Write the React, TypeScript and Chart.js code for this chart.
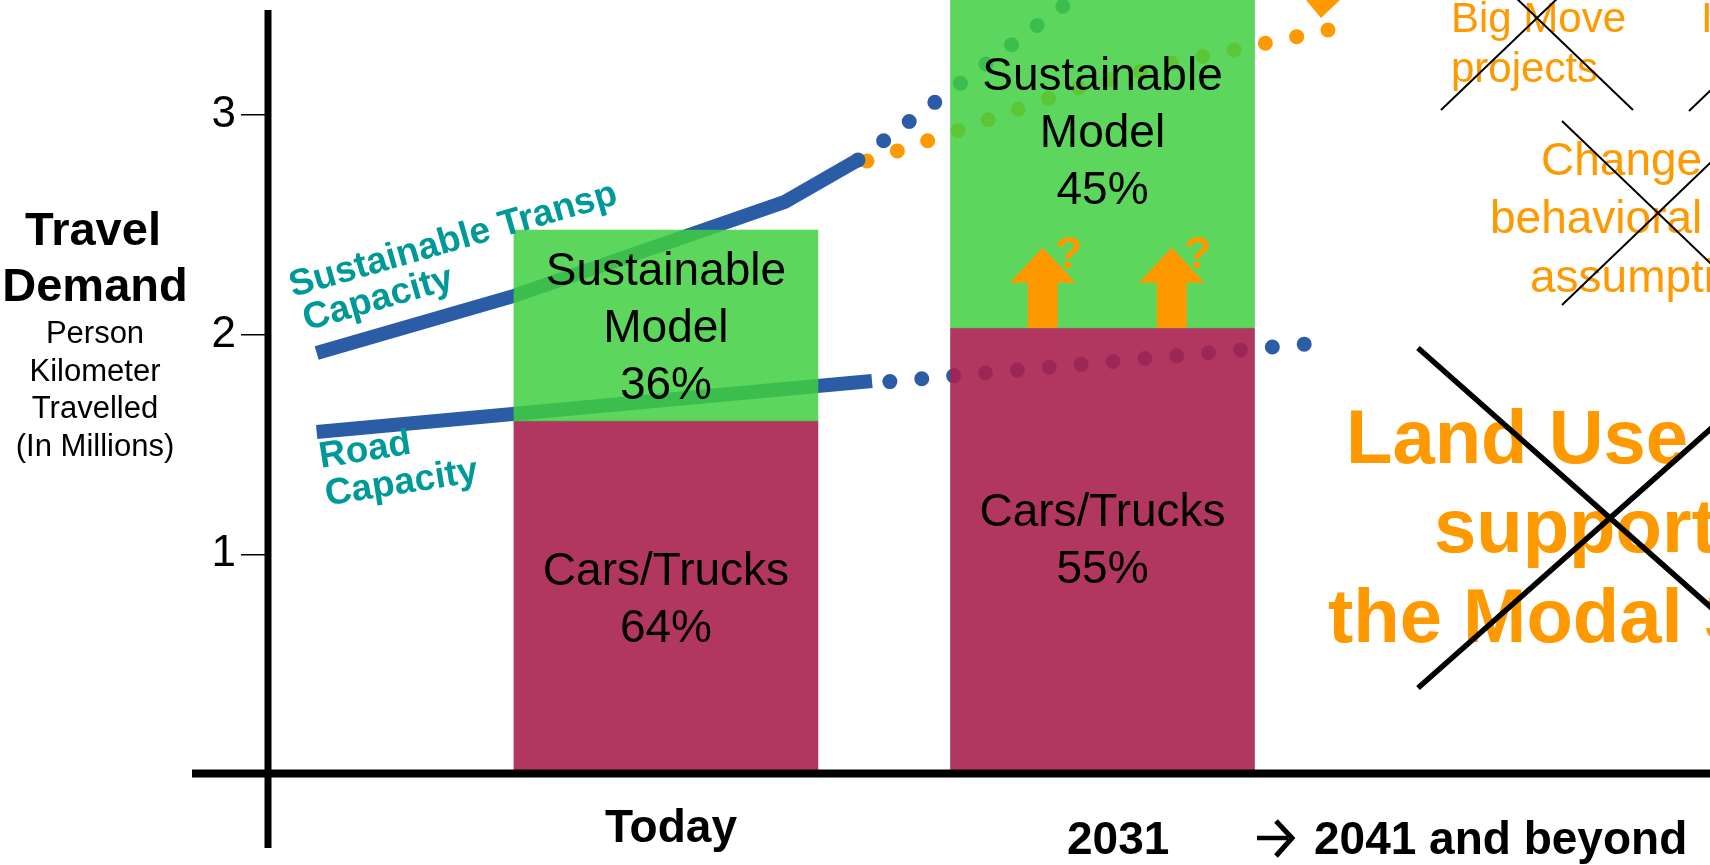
import React, { useEffect, useRef } from 'react';
import { Chart, registerables } from 'chart.js';

Chart.register(...registerables);

const FONT = '"Liberation Sans", Arial, Helvetica, sans-serif';

// ---- Data ----
const categories = ['Today', '2031', '2041 and beyond'];
const barYears = [2011, 2031];
const carsTrucksTop = [1.607, 2.03];
const sustainableTop = [2.476, 3.69];
const carsShare = ['64%', '55%'];
const sustainableShare = ['36%', '45%'];
const yTicks = [1, 2, 3];

// Sustainable transport capacity (existing, solid) and its projection (dotted)
const sustCapYears = [1995.0, 2004.04, 2016.45, 2019.8];
const sustCapValues = [1.916, 2.176, 2.604, 2.795];
const sustCapProjYears = [2019.8, 2030.6];
const sustCapProjValues = [2.795, 3.6];

// Road capacity (existing, solid) and its projection (dotted)
const roadCapYears = [1995.0, 2020.44];
const roadCapValues = [1.557, 1.789];
const roadCapProjYears = [2021.26, 2040.4];
const roadCapProjValues = [1.786, 1.958];

// Projected travel demand (orange dotted)
const demandProjYears = [2020.21, 2024.33, 2029.87, 2034.18, 2041.6];
const demandProjValues = [2.79, 2.927, 3.122, 3.236, 3.392];

const zip = (xs: number[], ys: number[]) => xs.map((x, i) => ({ x, y: ys[i] }));

const BLUE = '#2B5CA6';
const ORANGE = '#FF9900';
const TEAL = '#009999';
const GREEN = 'rgba(63,207,63,0.85)';
const MAROON = 'rgba(168,33,79,0.9)';

const overlayPlugin = {
  id: 'overlay',
  afterDatasetsDraw(chart: any) {
    const ctx = chart.ctx;
    const xs = chart.scales.x;
    const ys = chart.scales.y;
    const X = (v: number) => xs.getPixelForValue(v);
    const Y = (v: number) => ys.getPixelForValue(v);
    const left = chart.chartArea.left;
    ctx.save();

    // axes (thick black cross-style axes)
    ctx.fillStyle = '#000';
    ctx.fillRect(left - 3.5, 10, 7, 838);
    ctx.fillRect(192, Y(0) - 4.5, chart.width - 192, 8);

    // bar segment labels
    ctx.fillStyle = '#000';
    ctx.textAlign = 'center';
    ctx.textBaseline = 'alphabetic';
    ctx.font = `46px ${FONT}`;
    const blocks = [
      { x: barYears[0], v: 2.0414, lines: ['Sustainable', 'Model', sustainableShare[0]] },
      { x: barYears[0], v: 0.8056, lines: ['Cars/Trucks', carsShare[0]] },
      { x: barYears[1], v: 2.929, lines: ['Sustainable', 'Model', sustainableShare[1]] },
      { x: barYears[1], v: 1.074, lines: ['Cars/Trucks', carsShare[1]] },
    ];
    blocks.forEach((b) => {
      const cy = Y(b.v);
      const n = b.lines.length;
      b.lines.forEach((t, k) => {
        ctx.fillText(t, X(b.x), cy + (k - (n - 1) / 2) * 57 + 16.5);
      });
    });

    // orange up arrows with question marks
    ctx.fillStyle = ORANGE;
    [2028.26, 2034.17].forEach((yr) => {
      const bx = X(yr);
      const yb = Y(carsTrucksTop[1]);
      const yh = Y(2.236);
      const ya = Y(2.397);
      ctx.beginPath();
      ctx.moveTo(bx - 15, yb);
      ctx.lineTo(bx - 15, yh);
      ctx.lineTo(bx - 33, yh);
      ctx.lineTo(bx, ya);
      ctx.lineTo(bx + 33, yh);
      ctx.lineTo(bx + 15, yh);
      ctx.lineTo(bx + 15, yb);
      ctx.closePath();
      ctx.fill();
      ctx.font = `bold 44px ${FONT}`;
      ctx.textAlign = 'center';
      ctx.fillText('?', bx + 26, Y(2.303));
    });

    // orange arrowhead at top
    ctx.beginPath();
    ctx.moveTo(1306, 0);
    ctx.lineTo(1340, 0);
    ctx.lineTo(1321, 18);
    ctx.closePath();
    ctx.fill();

    // line labels (teal, rotated)
    ctx.fillStyle = TEAL;
    ctx.font = `bold 37px ${FONT}`;
    ctx.textAlign = 'left';
    ctx.save();
    ctx.translate(293, 297);
    ctx.rotate((-16 * Math.PI) / 180);
    ctx.fillText('Sustainable Transp', 0, 0);
    ctx.fillText('Capacity', 4, 36);
    ctx.restore();
    ctx.save();
    ctx.translate(321, 468);
    ctx.rotate((-9 * Math.PI) / 180);
    ctx.fillText('Road', 0, 0);
    ctx.fillText('Capacity', 0, 38);
    ctx.restore();

    // left axis title
    ctx.fillStyle = '#000';
    ctx.textAlign = 'center';
    ctx.font = `bold 47px ${FONT}`;
    ctx.fillText('Travel', 93, 245);
    ctx.fillText('Demand', 95, 301);
    ctx.font = `31px ${FONT}`;
    ['Person', 'Kilometer', 'Travelled', '(In Millions)'].forEach((t, i) => {
      ctx.fillText(t, 95, 343 + i * 37.7);
    });

    // bottom category labels
    ctx.font = `bold 46px ${FONT}`;
    ctx.textAlign = 'center';
    ctx.fillText(categories[0], X(barYears[0]) + 5, 842);
    ctx.textAlign = 'left';
    ctx.fillText(categories[1], 1067, 854);
    ctx.fillText(categories[2], 1314, 854);
    // bold arrow before "2041 and beyond"
    ctx.strokeStyle = '#000';
    ctx.lineWidth = 4.5;
    ctx.lineCap = 'butt';
    ctx.beginPath();
    ctx.moveTo(1257, 838);
    ctx.lineTo(1288, 838);
    ctx.stroke();
    ctx.lineWidth = 5;
    ctx.lineJoin = 'miter';
    ctx.beginPath();
    ctx.moveTo(1276, 821);
    ctx.lineTo(1292, 838);
    ctx.lineTo(1276, 856);
    ctx.stroke();

    // right-side annotations (orange)
    ctx.fillStyle = ORANGE;
    ctx.textAlign = 'left';
    ctx.font = `42px ${FONT}`;
    ctx.fillText('Big Move', 1451, 32);
    ctx.fillText('projects', 1451, 82);
    ctx.fillText('I', 1701, 32);
    ctx.font = `46px ${FONT}`;
    ctx.fillText('Change', 1541, 175);
    ctx.fillText('behavioral', 1490, 233);
    ctx.fillText('assumptions', 1530, 292);
    ctx.font = `bold 76px ${FONT}`;
    ctx.fillText('Land Use to', 1346, 463);
    ctx.fillText('support', 1434, 552);
    ctx.fillText('the Modal Split', 1328, 642);

    // crosses
    ctx.strokeStyle = '#000';
    const cross = (cx: number, cy: number, hw: number, hh: number, lw: number) => {
      ctx.lineWidth = lw;
      ctx.beginPath();
      ctx.moveTo(cx - hw, cy - hh);
      ctx.lineTo(cx + hw, cy + hh);
      ctx.moveTo(cx - hw, cy + hh);
      ctx.lineTo(cx + hw, cy - hh);
      ctx.stroke();
    };
    cross(1537, 18, 96, 92, 2);
    cross(1785, 19, 96, 92, 2);
    cross(1658, 213, 96, 92, 2);
    cross(1610, 518, 192, 170, 5.5);

    ctx.restore();
  },
};

export default function App() {
  const ref = useRef<HTMLCanvasElement>(null);
  useEffect(() => {
    document.body.style.margin = '0';
    const canvas = ref.current;
    if (!canvas) return;
    const chart = new Chart(canvas, {
      type: 'bar',
      data: {
        datasets: [
          {
            type: 'bar',
            label: 'Sustainable Model',
            data: barYears.map((x, i) => ({ x, y: [carsTrucksTop[i], sustainableTop[i]] })),
            backgroundColor: GREEN,
            borderWidth: 0,
            barThickness: 304,
            grouped: false,
            order: 0,
          },
          {
            type: 'bar',
            label: 'Cars/Trucks',
            data: barYears.map((x, i) => ({ x, y: [0, carsTrucksTop[i]] })),
            backgroundColor: MAROON,
            borderWidth: 0,
            barThickness: 304,
            grouped: false,
            order: 1,
          },
          {
            type: 'line',
            label: 'Road Capacity',
            data: zip(roadCapYears, roadCapValues),
            borderColor: BLUE,
            borderWidth: 14,
            pointRadius: 0,
            tension: 0,
            fill: false,
            order: 5,
          },
          {
            type: 'line',
            label: 'Road Capacity (projected)',
            data: zip(roadCapProjYears, roadCapProjValues),
            borderColor: BLUE,
            borderWidth: 15,
            borderDash: [0, 32],
            borderCapStyle: 'round',
            pointRadius: 0,
            tension: 0,
            fill: false,
            order: 6,
          },
          {
            type: 'line',
            label: 'Sustainable Transp Capacity',
            data: zip(sustCapYears, sustCapValues),
            borderColor: BLUE,
            borderWidth: 14,
            pointRadius: 0,
            tension: 0,
            fill: false,
            order: 5,
          },
          {
            type: 'line',
            label: 'Sustainable Transp Capacity (projected)',
            data: zip(sustCapProjYears, sustCapProjValues),
            borderColor: BLUE,
            borderWidth: 15,
            borderDash: [0, 32],
            borderCapStyle: 'round',
            pointRadius: 0,
            tension: 0,
            fill: false,
            order: 6,
          },
          {
            type: 'line',
            label: 'Travel Demand (projected)',
            data: zip(demandProjYears, demandProjValues),
            borderColor: ORANGE,
            borderWidth: 15,
            borderDash: [0, 32],
            borderCapStyle: 'round',
            pointRadius: 0,
            tension: 0,
            fill: false,
            order: 8,
          },
        ] as any,
      },
      options: {
        animation: false,
        responsive: false,
        maintainAspectRatio: false,
        events: [],
        layout: { padding: 0 },
        plugins: { legend: { display: false }, tooltip: { enabled: false } },
        scales: {
          x: {
            type: 'linear',
            display: false,
            min: 1992.77,
            max: 2058.83,
            offset: false,
          },
          y: {
            type: 'linear',
            position: 'left',
            min: -0.4142,
            max: 3.523,
            afterBuildTicks: (s: any) => {
              s.ticks = yTicks.map((v) => ({ value: v }));
            },
            afterFit: (s: any) => {
              s.width = 268;
              s.paddingTop = 0;
              s.paddingBottom = 0;
            },
            grid: {
              drawOnChartArea: false,
              drawTicks: true,
              tickLength: 27,
              color: '#000',
              tickColor: '#000',
              lineWidth: 1.5,
              tickWidth: 1.5,
            },
            border: { display: false },
            ticks: {
              color: '#000',
              padding: 5,
              font: { family: FONT, size: 44 },
            },
          },
        },
      } as any,
      plugins: [overlayPlugin],
    });
    return () => chart.destroy();
  }, []);
  return (
    <div style={{ width: 1710, height: 865, overflow: 'hidden', background: '#fff' }}>
      <canvas ref={ref} width={1710} height={865} style={{ display: 'block' }} />
    </div>
  );
}
